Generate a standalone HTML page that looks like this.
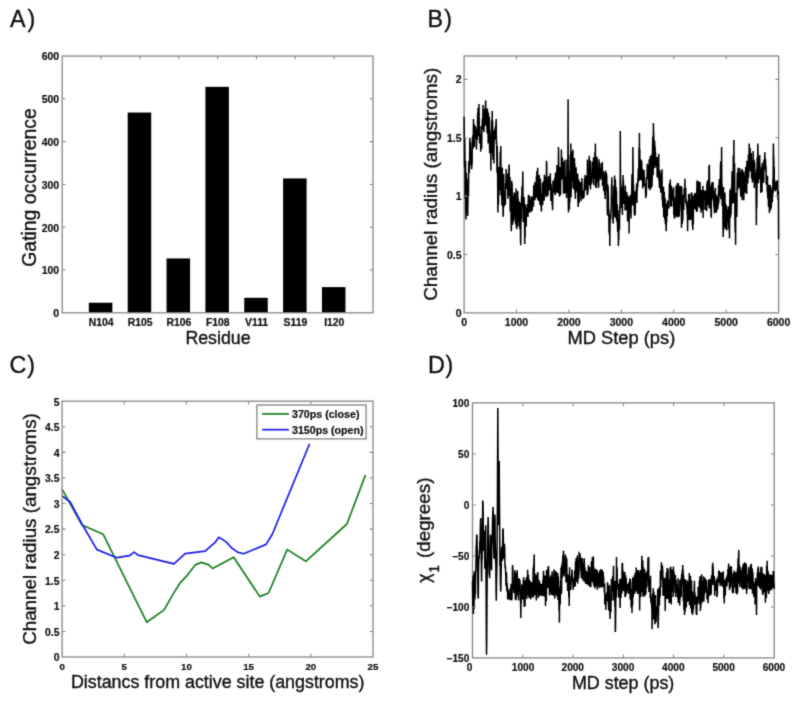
<!DOCTYPE html>
<html><head><meta charset="utf-8"><title>Figure</title>
<style>
html,body{margin:0;padding:0;background:#fff;}
body{width:798px;height:703px;overflow:hidden;font-family:"Liberation Sans",sans-serif;}
svg{display:block;font-family:"Liberation Sans",sans-serif;fill:#101010;}
</style></head><body>
<svg width="798" height="703" viewBox="0 0 798 703">
<defs><filter id="soft" x="0" y="0" width="100%" height="100%" filterUnits="objectBoundingBox" color-interpolation-filters="sRGB"><feConvolveMatrix order="3" kernelMatrix="0.0196 0.1008 0.0196 0.1008 0.5184 0.1008 0.0196 0.1008 0.0196" divisor="1" edgeMode="duplicate" preserveAlpha="true"/></filter></defs>
<g filter="url(#soft)">
<rect width="798" height="703" fill="#fff"/>
<text x="10.00" y="26.90" font-size="23.3" stroke="#101010" stroke-width="0.35" text-anchor="start">A<tspan dx="2.0">)</tspan></text>
<text x="427.60" y="26.70" font-size="23.3" stroke="#101010" stroke-width="0.35" text-anchor="start">B<tspan dx="1.2">)</tspan></text>
<text x="9.60" y="372.80" font-size="23.3" stroke="#101010" stroke-width="0.35" text-anchor="start">C<tspan dx="0.8">)</tspan></text>
<text x="427.90" y="372.60" font-size="23.3" stroke="#101010" stroke-width="0.35" text-anchor="start">D<tspan dx="0.7">)</tspan></text>
<path d="M101.05 312.80v-3.3M101.05 56.05v3.3M139.90 312.80v-3.3M139.90 56.05v3.3M178.75 312.80v-3.3M178.75 56.05v3.3M217.60 312.80v-3.3M217.60 56.05v3.3M256.45 312.80v-3.3M256.45 56.05v3.3M295.30 312.80v-3.3M295.30 56.05v3.3M334.15 312.80v-3.3M334.15 56.05v3.3M62.20 270.01h3.3M373.00 270.01h-3.3M62.20 227.22h3.3M373.00 227.22h-3.3M62.20 184.43h3.3M373.00 184.43h-3.3M62.20 141.63h3.3M373.00 141.63h-3.3M62.20 98.84h3.3M373.00 98.84h-3.3" stroke="#868686" stroke-width="1.05" fill="none"/>
<rect x="88.85" y="302.74" width="23.50" height="10.06" fill="#000"/>
<text x="101.20" y="325.90" font-size="10.4" font-weight="bold" stroke="#101010" stroke-width="0.2" text-anchor="middle">N104</text>
<rect x="127.70" y="112.54" width="23.50" height="200.26" fill="#000"/>
<text x="140.05" y="325.90" font-size="10.4" font-weight="bold" stroke="#101010" stroke-width="0.2" text-anchor="middle">R105</text>
<rect x="166.55" y="258.45" width="23.50" height="54.35" fill="#000"/>
<text x="178.90" y="325.90" font-size="10.4" font-weight="bold" stroke="#101010" stroke-width="0.2" text-anchor="middle">R106</text>
<rect x="205.40" y="86.86" width="23.50" height="225.94" fill="#000"/>
<text x="217.75" y="325.90" font-size="10.4" font-weight="bold" stroke="#101010" stroke-width="0.2" text-anchor="middle">F108</text>
<rect x="244.25" y="297.82" width="23.50" height="14.98" fill="#000"/>
<text x="256.60" y="325.90" font-size="10.4" font-weight="bold" stroke="#101010" stroke-width="0.2" text-anchor="middle">V111</text>
<rect x="283.10" y="178.43" width="23.50" height="134.37" fill="#000"/>
<text x="295.45" y="325.90" font-size="10.4" font-weight="bold" stroke="#101010" stroke-width="0.2" text-anchor="middle">S119</text>
<rect x="321.95" y="287.12" width="23.50" height="25.68" fill="#000"/>
<text x="334.30" y="325.90" font-size="10.4" font-weight="bold" stroke="#101010" stroke-width="0.2" text-anchor="middle">I120</text>
<rect x="62.20" y="56.05" width="310.80" height="256.75" fill="none" stroke="#868686" stroke-width="1.3"/>
<text x="59.10" y="317.10" font-size="10.4" font-weight="bold" stroke="#101010" stroke-width="0.2" text-anchor="end">0</text>
<text x="59.10" y="274.31" font-size="10.4" font-weight="bold" stroke="#101010" stroke-width="0.2" text-anchor="end">100</text>
<text x="59.10" y="231.52" font-size="10.4" font-weight="bold" stroke="#101010" stroke-width="0.2" text-anchor="end">200</text>
<text x="59.10" y="188.73" font-size="10.4" font-weight="bold" stroke="#101010" stroke-width="0.2" text-anchor="end">300</text>
<text x="59.10" y="145.93" font-size="10.4" font-weight="bold" stroke="#101010" stroke-width="0.2" text-anchor="end">400</text>
<text x="59.10" y="103.14" font-size="10.4" font-weight="bold" stroke="#101010" stroke-width="0.2" text-anchor="end">500</text>
<text x="59.10" y="60.35" font-size="10.4" font-weight="bold" stroke="#101010" stroke-width="0.2" text-anchor="end">600</text>
<text x="218.00" y="343.80" font-size="17.8" stroke="#101010" stroke-width="0.35" text-anchor="middle">Residue</text>
<text x="35.60" y="187.50" font-size="19.4" stroke="#101010" stroke-width="0.35" text-anchor="middle" transform="rotate(-90 35.60 187.50)">Gating occurrence</text>
<rect x="464.10" y="56.00" width="314.50" height="256.90" fill="none" stroke="#868686" stroke-width="1.3"/>
<path d="M464.1 116.7L464.3 136.5L464.5 166.9L464.7 137.7L464.9 151.1L465.1 198.5L465.4 168.3L465.6 161.1L465.8 211.5L466.0 219.5L466.2 193.4L466.4 172.8L466.6 191.6L466.8 205.5L467.0 185.2L467.2 184.4L467.5 206.1L467.7 216.0L467.9 202.1L468.1 178.6L468.3 188.4L468.5 196.1L468.7 167.4L468.9 161.1L469.1 167.5L469.3 172.8L469.6 159.8L469.8 137.7L470.0 165.3L470.2 152.9L470.4 142.3L470.6 149.9L470.8 157.6L471.0 150.3L471.2 159.0L471.4 150.9L471.6 169.3L471.9 164.0L472.1 163.8L472.3 139.4L472.5 137.7L472.7 139.1L472.9 135.3L473.1 148.7L473.3 134.4L473.5 119.1L473.7 142.9L474.0 144.0L474.2 124.0L474.4 147.1L474.6 135.3L474.8 137.9L475.0 134.3L475.2 133.1L475.4 126.1L475.6 133.4L475.8 134.4L476.1 128.8L476.3 137.6L476.5 149.4L476.7 132.1L476.9 129.1L477.1 135.9L477.3 139.9L477.5 123.7L477.7 112.4L477.9 126.2L478.1 107.7L478.4 135.7L478.6 135.1L478.8 135.0L479.0 103.9L479.2 121.3L479.4 127.0L479.6 143.4L479.8 137.7L480.0 134.6L480.2 134.7L480.5 135.7L480.7 151.8L480.9 139.1L481.1 146.4L481.3 126.0L481.5 148.3L481.7 148.1L481.9 126.1L482.1 127.8L482.3 121.0L482.6 121.5L482.8 123.3L483.0 105.0L483.2 129.6L483.4 126.9L483.6 115.5L483.8 108.4L484.0 131.9L484.2 117.3L484.4 125.7L484.6 121.1L484.9 125.2L485.1 114.4L485.3 114.3L485.5 104.7L485.7 100.4L485.9 113.0L486.1 114.3L486.3 119.2L486.5 126.1L486.7 125.6L487.0 126.9L487.2 133.4L487.4 108.5L487.6 116.3L487.8 111.5L488.0 115.4L488.2 143.6L488.4 113.1L488.6 121.3L488.8 140.7L489.1 139.2L489.3 116.7L489.5 143.6L489.7 153.2L489.9 149.8L490.1 145.9L490.3 146.0L490.5 142.3L490.7 135.2L490.9 170.4L491.1 130.5L491.4 137.3L491.6 120.1L491.8 134.4L492.0 153.4L492.2 110.9L492.4 130.7L492.6 121.3L492.8 139.3L493.0 159.7L493.2 155.3L493.5 159.4L493.7 130.2L493.9 163.4L494.1 140.5L494.3 134.9L494.5 138.4L494.7 139.7L494.9 137.7L495.1 127.6L495.3 136.6L495.6 130.7L495.8 125.7L496.0 123.2L496.2 119.1L496.4 144.3L496.6 140.7L496.8 153.9L497.0 172.8L497.2 146.1L497.4 162.4L497.6 172.9L497.9 212.5L498.1 193.0L498.3 191.7L498.5 204.4L498.7 166.9L498.9 195.1L499.1 185.5L499.3 176.7L499.5 167.4L499.7 190.3L500.0 175.3L500.2 151.6L500.4 173.2L500.6 167.7L500.8 145.9L501.0 195.3L501.2 184.9L501.4 196.1L501.6 183.4L501.8 196.1L502.0 205.6L502.3 167.6L502.5 187.2L502.7 191.1L502.9 200.8L503.1 216.0L503.3 216.0L503.5 190.1L503.7 173.9L503.9 193.5L504.1 206.8L504.4 193.9L504.6 202.5L504.8 192.3L505.0 203.6L505.2 192.9L505.4 204.9L505.6 183.3L505.8 187.7L506.0 181.4L506.2 169.1L506.5 189.0L506.7 176.8L506.9 186.4L507.1 175.0L507.3 173.5L507.5 187.0L507.7 180.0L507.9 198.8L508.1 178.2L508.3 186.3L508.5 192.2L508.8 175.1L509.0 164.5L509.2 165.9L509.4 196.3L509.6 182.2L509.8 187.5L510.0 176.9L510.2 211.6L510.4 188.6L510.6 197.7L510.9 206.8L511.1 219.4L511.3 231.2L511.5 223.9L511.7 180.7L511.9 206.2L512.1 183.6L512.3 199.2L512.5 225.1L512.7 197.9L513.0 196.1L513.2 200.8L513.4 221.8L513.6 202.0L513.8 212.6L514.0 218.8L514.2 192.5L514.4 199.3L514.6 203.1L514.8 192.8L515.0 203.6L515.3 210.9L515.5 223.9L515.7 199.3L515.9 206.2L516.1 188.4L516.3 227.5L516.5 201.4L516.7 229.3L516.9 208.1L517.1 200.6L517.4 215.5L517.6 204.2L517.8 191.1L518.0 226.4L518.2 198.8L518.4 222.2L518.6 210.2L518.8 214.6L519.0 219.3L519.2 220.8L519.5 201.6L519.7 217.7L519.9 229.2L520.1 219.8L520.3 203.0L520.5 238.0L520.7 245.2L520.9 221.9L521.1 218.0L521.3 219.3L521.5 196.4L521.8 200.0L522.0 186.5L522.2 207.2L522.4 192.6L522.6 185.4L522.8 171.6L523.0 197.8L523.2 222.2L523.4 211.1L523.6 198.5L523.9 221.8L524.1 197.1L524.3 218.1L524.5 204.6L524.7 244.0L524.9 220.6L525.1 237.6L525.3 204.2L525.5 218.4L525.7 220.9L526.0 214.3L526.2 226.4L526.4 213.5L526.6 212.0L526.8 208.2L527.0 210.8L527.2 205.9L527.4 204.3L527.6 207.3L527.8 211.4L528.0 217.0L528.3 198.5L528.5 194.8L528.7 212.8L528.9 202.5L529.1 195.6L529.3 198.9L529.5 208.4L529.7 204.8L529.9 212.0L530.1 198.7L530.4 210.1L530.6 202.3L530.8 212.4L531.0 202.6L531.2 196.3L531.4 202.8L531.6 210.4L531.8 197.1L532.0 201.0L532.2 210.8L532.5 196.9L532.7 199.3L532.9 200.7L533.1 196.3L533.3 197.0L533.5 206.8L533.7 187.3L533.9 185.1L534.1 190.4L534.3 192.5L534.5 200.3L534.8 182.3L535.0 200.2L535.2 184.0L535.4 188.2L535.6 198.1L535.8 187.5L536.0 187.9L536.2 190.0L536.4 176.2L536.6 187.4L536.9 170.9L537.1 197.5L537.3 182.6L537.5 177.8L537.7 167.7L537.9 199.9L538.1 191.8L538.3 200.8L538.5 183.8L538.7 183.9L539.0 175.8L539.2 175.0L539.4 193.6L539.6 198.1L539.8 204.5L540.0 191.3L540.2 188.7L540.4 178.6L540.6 191.8L540.8 206.0L541.0 196.7L541.3 209.4L541.5 211.6L541.7 193.0L541.9 202.9L542.1 201.0L542.3 195.3L542.5 182.9L542.7 204.9L542.9 190.7L543.1 189.9L543.4 181.1L543.6 200.8L543.8 190.5L544.0 184.0L544.2 200.5L544.4 174.8L544.6 187.2L544.8 194.2L545.0 188.8L545.2 186.0L545.5 178.6L545.7 176.7L545.9 181.7L546.1 197.1L546.3 193.7L546.5 160.7L546.7 164.7L546.9 188.0L547.1 195.5L547.3 186.7L547.5 196.2L547.8 186.5L548.0 195.4L548.2 179.2L548.4 182.5L548.6 175.9L548.8 186.9L549.0 190.5L549.2 189.5L549.4 185.6L549.6 179.1L549.9 187.0L550.1 181.2L550.3 173.2L550.5 188.0L550.7 186.6L550.9 201.1L551.1 183.7L551.3 189.6L551.5 190.7L551.7 199.8L552.0 199.9L552.2 205.2L552.4 201.4L552.6 210.2L552.8 195.5L553.0 180.4L553.2 186.9L553.4 185.2L553.6 189.4L553.8 186.0L554.0 192.8L554.3 184.0L554.5 186.4L554.7 178.2L554.9 190.6L555.1 195.1L555.3 177.2L555.5 172.6L555.7 193.4L555.9 192.0L556.1 183.4L556.4 190.3L556.6 176.3L556.8 173.9L557.0 164.9L557.2 172.7L557.4 192.2L557.6 184.2L557.8 168.6L558.0 193.3L558.2 187.3L558.5 147.1L558.7 165.6L558.9 168.2L559.1 192.1L559.3 173.3L559.5 196.5L559.7 167.0L559.9 176.1L560.1 170.3L560.3 169.4L560.5 195.3L560.8 175.2L561.0 179.4L561.2 179.8L561.4 149.4L561.6 177.4L561.8 163.3L562.0 157.1L562.2 178.6L562.4 158.1L562.6 173.3L562.9 179.1L563.1 163.2L563.3 176.9L563.5 193.8L563.7 161.8L563.9 174.1L564.1 173.4L564.3 193.5L564.5 176.5L564.7 174.0L564.9 159.8L565.2 193.3L565.4 178.0L565.6 177.7L565.8 177.3L566.0 183.6L566.2 179.3L566.4 176.4L566.6 198.0L566.8 181.1L567.0 159.5L567.3 160.1L567.5 191.0L567.7 192.7L567.9 163.5L568.1 99.2L568.3 203.5L568.5 212.5L568.7 172.1L568.9 202.0L569.1 184.3L569.4 209.4L569.6 171.1L569.8 202.5L570.0 174.7L570.2 155.0L570.4 174.1L570.6 163.8L570.8 143.6L571.0 197.6L571.2 188.8L571.4 167.4L571.7 151.7L571.9 187.9L572.1 166.0L572.3 155.4L572.5 180.9L572.7 155.6L572.9 149.8L573.1 178.4L573.3 166.6L573.5 170.6L573.8 189.6L574.0 163.6L574.2 168.8L574.4 158.0L574.6 173.9L574.8 163.4L575.0 192.5L575.2 193.2L575.4 199.0L575.6 178.8L575.9 186.0L576.1 167.3L576.3 191.5L576.5 180.7L576.7 184.2L576.9 179.8L577.1 174.6L577.3 173.4L577.5 192.9L577.7 173.9L577.9 197.4L578.2 206.9L578.4 193.6L578.6 196.2L578.8 179.4L579.0 196.4L579.2 203.1L579.4 183.1L579.6 187.2L579.8 187.4L580.0 184.9L580.3 181.9L580.5 196.3L580.7 193.1L580.9 185.2L581.1 200.9L581.3 184.7L581.5 185.4L581.7 199.3L581.9 178.0L582.1 191.6L582.4 195.8L582.6 198.2L582.8 197.2L583.0 193.0L583.2 198.8L583.4 190.5L583.6 194.7L583.8 192.6L584.0 197.6L584.2 187.9L584.4 182.0L584.7 178.0L584.9 190.7L585.1 174.9L585.3 179.4L585.5 180.9L585.7 189.8L585.9 184.9L586.1 176.4L586.3 184.8L586.5 175.9L586.8 183.7L587.0 180.0L587.2 195.2L587.4 162.0L587.6 159.5L587.8 193.8L588.0 190.2L588.2 172.0L588.4 179.8L588.6 177.0L588.9 180.1L589.1 172.9L589.3 155.8L589.5 181.1L589.7 184.9L589.9 185.1L590.1 178.5L590.3 160.4L590.5 189.4L590.7 161.6L590.9 169.2L591.2 184.6L591.4 177.8L591.6 178.0L591.8 183.1L592.0 174.6L592.2 177.7L592.4 177.7L592.6 169.1L592.8 161.4L593.0 173.4L593.3 169.8L593.5 157.3L593.7 185.2L593.9 167.1L594.1 178.7L594.3 174.2L594.5 160.6L594.7 172.0L594.9 152.4L595.1 172.6L595.4 143.6L595.6 187.7L595.8 157.9L596.0 169.1L596.2 166.7L596.4 187.8L596.6 162.5L596.8 156.9L597.0 158.9L597.2 163.0L597.4 181.3L597.7 175.6L597.9 182.5L598.1 169.6L598.3 169.8L598.5 186.9L598.7 186.7L598.9 159.3L599.1 180.1L599.3 161.9L599.5 171.9L599.8 169.0L600.0 179.8L600.2 175.5L600.4 172.5L600.6 175.9L600.8 168.0L601.0 175.1L601.2 163.6L601.4 168.9L601.6 178.6L601.9 176.5L602.1 180.3L602.3 162.0L602.5 186.1L602.7 173.9L602.9 175.2L603.1 170.8L603.3 173.9L603.5 176.6L603.7 191.1L603.9 188.3L604.2 175.1L604.4 182.2L604.6 181.3L604.8 194.9L605.0 171.7L605.2 199.0L605.4 187.7L605.6 170.5L605.8 190.2L606.0 173.4L606.3 172.7L606.5 187.3L606.7 174.4L606.9 189.1L607.1 189.5L607.3 210.8L607.5 215.4L607.7 184.3L607.9 198.1L608.1 186.6L608.4 196.3L608.6 211.1L608.8 209.3L609.0 232.7L609.2 213.8L609.4 234.7L609.6 215.2L609.8 245.9L610.0 222.4L610.2 222.0L610.4 217.4L610.7 219.6L610.9 213.2L611.1 210.1L611.3 206.9L611.5 184.8L611.7 187.6L611.9 177.2L612.1 194.8L612.3 202.0L612.5 199.3L612.8 196.3L613.0 223.4L613.2 222.9L613.4 208.5L613.6 213.3L613.8 185.9L614.0 198.9L614.2 185.7L614.4 217.3L614.6 175.6L614.9 214.6L615.1 213.0L615.3 179.4L615.5 184.6L615.7 192.4L615.9 218.3L616.1 187.1L616.3 212.6L616.5 190.4L616.7 221.4L616.9 208.0L617.2 204.3L617.4 220.3L617.6 230.5L617.8 231.8L618.0 229.8L618.2 218.9L618.4 245.9L618.6 236.6L618.8 239.8L619.0 210.5L619.3 218.9L619.5 229.7L619.7 206.4L619.9 212.8L620.1 203.2L620.3 131.0L620.5 177.5L620.7 183.2L620.9 185.2L621.1 198.0L621.4 187.2L621.6 208.0L621.8 199.8L622.0 203.6L622.2 198.0L622.4 215.0L622.6 193.6L622.8 200.1L623.0 174.9L623.2 202.1L623.4 179.8L623.7 194.1L623.9 204.0L624.1 193.8L624.3 191.7L624.5 191.3L624.7 197.2L624.9 197.3L625.1 210.6L625.3 185.6L625.5 197.0L625.8 210.1L626.0 202.9L626.2 199.0L626.4 205.0L626.6 205.8L626.8 191.9L627.0 208.9L627.2 196.4L627.4 208.4L627.6 221.4L627.8 213.4L628.1 195.4L628.3 217.6L628.5 218.9L628.7 219.5L628.9 199.8L629.1 233.5L629.3 197.7L629.5 208.7L629.7 213.9L629.9 196.9L630.2 204.0L630.4 194.7L630.6 205.9L630.8 206.2L631.0 218.4L631.2 201.5L631.4 202.6L631.6 198.2L631.8 183.2L632.0 174.2L632.3 205.4L632.5 173.7L632.7 192.5L632.9 147.1L633.1 175.5L633.3 187.8L633.5 184.7L633.7 196.1L633.9 205.5L634.1 190.9L634.3 211.9L634.6 215.7L634.8 211.1L635.0 213.2L635.2 213.4L635.4 199.5L635.6 195.5L635.8 191.2L636.0 193.5L636.2 190.8L636.4 190.2L636.7 183.2L636.9 203.1L637.1 185.6L637.3 191.1L637.5 183.8L637.7 186.7L637.9 177.7L638.1 182.9L638.3 168.5L638.5 180.2L638.8 173.8L639.0 147.6L639.2 180.8L639.4 133.1L639.6 171.8L639.8 148.9L640.0 173.6L640.2 172.5L640.4 175.6L640.6 178.2L640.8 180.3L641.1 159.6L641.3 173.7L641.5 179.1L641.7 161.1L641.9 180.4L642.1 175.1L642.3 168.8L642.5 171.7L642.7 188.4L642.9 184.8L643.2 175.8L643.4 182.0L643.6 186.3L643.8 176.9L644.0 169.8L644.2 177.2L644.4 178.1L644.6 183.7L644.8 185.1L645.0 185.0L645.3 185.3L645.5 188.0L645.7 198.2L645.9 188.7L646.1 193.0L646.3 196.1L646.5 178.1L646.7 177.2L646.9 179.1L647.1 175.0L647.3 163.7L647.6 174.8L647.8 173.8L648.0 177.4L648.2 178.0L648.4 164.7L648.6 188.4L648.8 168.3L649.0 177.8L649.2 159.3L649.4 170.8L649.7 169.5L649.9 190.2L650.1 179.3L650.3 156.0L650.5 173.1L650.7 187.0L650.9 186.7L651.1 162.9L651.3 188.2L651.5 154.6L651.8 170.5L652.0 186.2L652.2 176.8L652.4 159.4L652.6 143.0L652.8 136.4L653.0 148.9L653.2 174.9L653.4 123.0L653.6 133.1L653.8 136.2L654.1 167.1L654.3 144.9L654.5 140.5L654.7 144.2L654.9 168.1L655.1 146.5L655.3 159.3L655.5 152.2L655.7 165.4L655.9 157.3L656.2 159.3L656.4 157.0L656.6 163.3L656.8 166.9L657.0 161.7L657.2 176.9L657.4 157.1L657.6 175.5L657.8 159.3L658.0 178.0L658.3 160.7L658.5 170.5L658.7 153.8L658.9 180.0L659.1 173.2L659.3 183.1L659.5 188.3L659.7 169.9L659.9 178.6L660.1 188.0L660.3 180.2L660.6 183.4L660.8 192.8L661.0 180.9L661.2 185.4L661.4 172.5L661.6 182.6L661.8 179.8L662.0 169.2L662.2 199.9L662.4 195.7L662.7 204.3L662.9 207.1L663.1 202.4L663.3 208.2L663.5 186.7L663.7 217.3L663.9 203.9L664.1 210.3L664.3 191.8L664.5 208.3L664.8 219.4L665.0 197.8L665.2 200.8L665.4 223.9L665.6 215.5L665.8 209.6L666.0 223.8L666.2 231.2L666.4 220.1L666.6 222.5L666.8 203.7L667.1 216.1L667.3 215.5L667.5 200.4L667.7 208.9L667.9 201.9L668.1 202.0L668.3 205.1L668.5 201.2L668.7 205.1L668.9 208.6L669.2 198.3L669.4 183.4L669.6 185.5L669.8 187.6L670.0 193.1L670.2 179.4L670.4 186.3L670.6 191.2L670.8 206.6L671.0 185.5L671.3 190.5L671.5 186.2L671.7 206.7L671.9 194.8L672.1 200.7L672.3 198.4L672.5 197.5L672.7 193.4L672.9 191.9L673.1 189.6L673.3 194.7L673.6 187.3L673.8 215.0L674.0 202.4L674.2 204.2L674.4 218.7L674.6 208.6L674.8 197.4L675.0 201.4L675.2 206.3L675.4 206.0L675.7 217.2L675.9 202.7L676.1 187.6L676.3 185.2L676.5 202.3L676.7 216.6L676.9 206.2L677.1 206.0L677.3 187.8L677.5 183.1L677.8 200.1L678.0 217.6L678.2 191.3L678.4 183.3L678.6 196.4L678.8 193.7L679.0 196.2L679.2 216.4L679.4 198.3L679.6 192.7L679.8 191.1L680.1 185.8L680.3 204.1L680.5 200.0L680.7 186.4L680.9 198.0L681.1 210.7L681.3 203.9L681.5 227.7L681.7 186.3L681.9 206.7L682.2 224.0L682.4 212.4L682.6 208.2L682.8 220.8L683.0 203.5L683.2 209.7L683.4 194.5L683.6 200.2L683.8 210.0L684.0 199.6L684.2 190.0L684.5 190.4L684.7 197.9L684.9 178.8L685.1 190.8L685.3 195.8L685.5 196.8L685.7 187.7L685.9 203.3L686.1 198.7L686.3 201.9L686.6 205.5L686.8 206.1L687.0 208.7L687.2 214.7L687.4 209.8L687.6 231.2L687.8 205.7L688.0 201.4L688.2 219.7L688.4 205.4L688.7 194.0L688.9 219.8L689.1 202.4L689.3 193.7L689.5 220.3L689.7 205.1L689.9 219.6L690.1 198.9L690.3 217.6L690.5 211.2L690.7 218.4L691.0 212.7L691.2 193.2L691.4 219.8L691.6 192.3L691.8 206.7L692.0 193.7L692.2 202.8L692.4 226.2L692.6 215.7L692.8 230.0L693.1 199.5L693.3 224.6L693.5 197.3L693.7 195.5L693.9 199.9L694.1 201.8L694.3 202.7L694.5 209.1L694.7 193.3L694.9 196.2L695.2 200.4L695.4 209.6L695.6 202.7L695.8 194.7L696.0 192.7L696.2 203.0L696.4 202.3L696.6 212.0L696.8 195.5L697.0 180.6L697.2 211.4L697.5 204.0L697.7 181.9L697.9 183.3L698.1 201.6L698.3 200.7L698.5 181.2L698.7 206.5L698.9 189.6L699.1 199.0L699.3 184.3L699.6 207.8L699.8 188.8L700.0 181.9L700.2 193.9L700.4 208.6L700.6 197.6L700.8 192.2L701.0 212.7L701.2 192.4L701.4 190.1L701.7 196.3L701.9 205.9L702.1 210.1L702.3 192.9L702.5 196.8L702.7 204.3L702.9 185.8L703.1 218.1L703.3 195.3L703.5 192.7L703.7 199.5L704.0 190.3L704.2 193.7L704.4 198.0L704.6 196.1L704.8 192.7L705.0 209.7L705.2 200.0L705.4 190.7L705.6 209.9L705.8 201.0L706.1 193.2L706.3 210.0L706.5 196.1L706.7 211.2L706.9 183.4L707.1 199.3L707.3 181.7L707.5 181.4L707.7 181.7L707.9 205.2L708.2 196.0L708.4 205.1L708.6 181.1L708.8 182.5L709.0 166.1L709.2 208.6L709.4 164.7L709.6 207.5L709.8 202.9L710.0 186.1L710.2 207.2L710.5 195.9L710.7 199.8L710.9 205.2L711.1 216.0L711.3 217.7L711.5 184.0L711.7 198.8L711.9 182.3L712.1 191.0L712.3 190.2L712.6 197.6L712.8 188.0L713.0 182.0L713.2 195.8L713.4 200.6L713.6 189.9L713.8 202.6L714.0 207.2L714.2 198.3L714.4 213.3L714.7 202.3L714.9 197.8L715.1 209.8L715.3 187.8L715.5 211.3L715.7 211.1L715.9 194.5L716.1 198.5L716.3 198.3L716.5 212.7L716.7 202.6L717.0 195.9L717.2 202.1L717.4 200.2L717.6 209.4L717.8 208.1L718.0 204.5L718.2 194.2L718.4 204.4L718.6 185.3L718.8 202.7L719.1 187.4L719.3 180.3L719.5 179.2L719.7 196.3L719.9 191.9L720.1 187.8L720.3 182.6L720.5 166.7L720.7 161.4L720.9 199.2L721.2 177.1L721.4 179.3L721.6 147.1L721.8 186.9L722.0 184.1L722.2 206.1L722.4 194.1L722.6 205.8L722.8 200.5L723.0 226.6L723.2 237.0L723.5 187.0L723.7 230.0L723.9 213.8L724.1 214.4L724.3 204.6L724.5 226.5L724.7 211.2L724.9 192.6L725.1 227.1L725.3 202.5L725.6 229.1L725.8 214.7L726.0 226.7L726.2 204.8L726.4 210.8L726.6 228.8L726.8 230.3L727.0 224.6L727.2 218.7L727.4 212.2L727.7 215.3L727.9 209.4L728.1 214.6L728.3 206.2L728.5 222.8L728.7 218.2L728.9 229.6L729.1 215.0L729.3 226.8L729.5 238.2L729.7 213.3L730.0 189.6L730.2 198.2L730.4 218.1L730.6 194.2L730.8 205.4L731.0 214.7L731.2 206.5L731.4 187.6L731.6 197.1L731.8 188.8L732.1 171.3L732.3 203.6L732.5 201.6L732.7 179.9L732.9 178.3L733.1 187.3L733.3 155.3L733.5 202.7L733.7 202.2L733.9 140.1L734.2 195.6L734.4 199.5L734.6 163.3L734.8 199.2L735.0 222.8L735.2 232.4L735.4 196.1L735.6 244.8L735.8 192.7L736.0 196.6L736.2 198.6L736.5 201.6L736.7 217.0L736.9 210.5L737.1 184.1L737.3 172.8L737.5 177.7L737.7 189.8L737.9 176.2L738.1 167.8L738.3 183.3L738.6 180.6L738.8 181.1L739.0 183.1L739.2 187.7L739.4 184.3L739.6 175.4L739.8 167.9L740.0 183.1L740.2 173.3L740.4 189.2L740.7 195.7L740.9 196.7L741.1 193.1L741.3 177.1L741.5 171.4L741.7 181.0L741.9 170.0L742.1 200.3L742.3 169.1L742.5 192.6L742.7 184.1L743.0 172.8L743.2 171.5L743.4 180.9L743.6 192.2L743.8 200.3L744.0 189.3L744.2 184.0L744.4 175.8L744.6 182.5L744.8 182.4L745.1 171.3L745.3 188.9L745.5 192.8L745.7 166.7L745.9 187.8L746.1 185.4L746.3 168.0L746.5 186.4L746.7 193.9L746.9 160.7L747.2 170.6L747.4 180.0L747.6 171.6L747.8 183.5L748.0 169.9L748.2 172.9L748.4 154.6L748.6 177.7L748.8 171.4L749.0 166.3L749.2 143.6L749.5 164.7L749.7 162.8L749.9 159.4L750.1 147.9L750.3 162.6L750.5 171.6L750.7 153.1L750.9 171.6L751.1 157.0L751.3 153.0L751.6 177.3L751.8 177.1L752.0 160.7L752.2 164.4L752.4 182.4L752.6 172.8L752.8 180.5L753.0 169.6L753.2 151.1L753.4 167.5L753.6 172.3L753.9 161.5L754.1 159.7L754.3 188.1L754.5 163.9L754.7 163.8L754.9 183.0L755.1 172.9L755.3 179.5L755.5 184.3L755.7 173.2L756.0 185.4L756.2 208.9L756.4 225.3L756.6 169.2L756.8 207.6L757.0 179.1L757.2 157.8L757.4 173.1L757.6 168.0L757.8 143.6L758.1 159.5L758.3 183.3L758.5 178.1L758.7 167.3L758.9 163.1L759.1 157.1L759.3 177.1L759.5 179.3L759.7 154.9L759.9 178.9L760.1 168.8L760.4 169.9L760.6 171.4L760.8 193.1L761.0 181.8L761.2 173.6L761.4 173.0L761.6 166.4L761.8 174.5L762.0 192.0L762.2 162.7L762.5 181.5L762.7 167.4L762.9 167.0L763.1 176.0L763.3 182.0L763.5 182.7L763.7 180.1L763.9 159.7L764.1 170.2L764.3 166.1L764.6 162.7L764.8 152.2L765.0 161.5L765.2 167.0L765.4 158.8L765.6 161.4L765.8 171.3L766.0 166.2L766.2 184.6L766.4 179.1L766.6 183.4L766.9 179.9L767.1 178.6L767.3 192.6L767.5 175.7L767.7 195.9L767.9 198.6L768.1 185.6L768.3 190.4L768.5 206.8L768.7 195.8L769.0 206.9L769.2 184.8L769.4 213.1L769.6 186.9L769.8 210.6L770.0 202.6L770.2 184.9L770.4 201.0L770.6 210.3L770.8 187.1L771.1 198.1L771.3 207.8L771.5 190.5L771.7 200.3L771.9 202.6L772.1 191.6L772.3 202.3L772.5 189.5L772.7 196.4L772.9 178.4L773.1 193.0L773.4 143.6L773.6 156.6L773.8 159.3L774.0 190.0L774.2 167.1L774.4 190.6L774.6 179.8L774.8 188.7L775.0 186.3L775.2 184.3L775.5 190.3L775.7 190.1L775.9 185.1L776.1 182.0L776.3 183.9L776.5 181.0L776.7 185.9L776.9 182.3L777.1 189.4L777.3 180.2L777.6 193.3L777.8 196.4L778.0 197.6L778.2 200.2L778.4 191.3L778.6 239.3" stroke="#000" stroke-width="1.5" fill="none" stroke-linejoin="miter"/>
<path d="M516.52 312.90v-3.3M516.52 56.00v3.3M568.93 312.90v-3.3M568.93 56.00v3.3M621.35 312.90v-3.3M621.35 56.00v3.3M673.77 312.90v-3.3M673.77 56.00v3.3M726.18 312.90v-3.3M726.18 56.00v3.3M464.10 254.51h3.3M778.60 254.51h-3.3M464.10 196.13h3.3M778.60 196.13h-3.3M464.10 137.74h3.3M778.60 137.74h-3.3M464.10 79.35h3.3M778.60 79.35h-3.3" stroke="#868686" stroke-width="1.05" fill="none"/>
<text x="464.10" y="326.30" font-size="10.5" font-weight="bold" stroke="#101010" stroke-width="0.2" text-anchor="middle">0</text>
<text x="516.52" y="326.30" font-size="10.5" font-weight="bold" stroke="#101010" stroke-width="0.2" text-anchor="middle">1000</text>
<text x="568.93" y="326.30" font-size="10.5" font-weight="bold" stroke="#101010" stroke-width="0.2" text-anchor="middle">2000</text>
<text x="621.35" y="326.30" font-size="10.5" font-weight="bold" stroke="#101010" stroke-width="0.2" text-anchor="middle">3000</text>
<text x="673.77" y="326.30" font-size="10.5" font-weight="bold" stroke="#101010" stroke-width="0.2" text-anchor="middle">4000</text>
<text x="726.18" y="326.30" font-size="10.5" font-weight="bold" stroke="#101010" stroke-width="0.2" text-anchor="middle">5000</text>
<text x="778.60" y="326.30" font-size="10.5" font-weight="bold" stroke="#101010" stroke-width="0.2" text-anchor="middle">6000</text>
<text x="461.50" y="316.90" font-size="10.5" font-weight="bold" stroke="#101010" stroke-width="0.2" text-anchor="end">0</text>
<text x="461.50" y="258.51" font-size="10.5" font-weight="bold" stroke="#101010" stroke-width="0.2" text-anchor="end">0.5</text>
<text x="461.50" y="200.13" font-size="10.5" font-weight="bold" stroke="#101010" stroke-width="0.2" text-anchor="end">1</text>
<text x="461.50" y="141.74" font-size="10.5" font-weight="bold" stroke="#101010" stroke-width="0.2" text-anchor="end">1.5</text>
<text x="461.50" y="83.35" font-size="10.5" font-weight="bold" stroke="#101010" stroke-width="0.2" text-anchor="end">2</text>
<text x="621.40" y="343.60" font-size="18.3" stroke="#101010" stroke-width="0.35" text-anchor="middle">MD Step (ps)</text>
<text x="437.50" y="184.30" font-size="18.9" stroke="#101010" stroke-width="0.35" text-anchor="middle" transform="rotate(-90 437.50 184.30)">Channel radius (angstroms)</text>
<path d="M62.1 489.2L82.0 525.0L103.1 534.2L146.7 622.2L164.1 609.9L172.8 594.6L180.2 582.8L186.5 576.2L195.2 564.9L201.4 562.4L208.8 564.9L212.6 568.5L233.7 557.2L259.8 596.6L268.5 593.0L287.2 549.6L305.8 561.3L346.9 524.0L365.5 474.9" stroke="#1a7f1f" stroke-width="1.7" fill="none" stroke-linejoin="round"/>
<path d="M62.1 495.8L70.2 502.0L82.0 524.0L96.9 549.6L116.8 557.7L129.3 555.7L134.2 552.1L138.0 555.2L174.0 563.9L185.2 553.7L205.1 551.1L215.1 542.4L218.8 537.3L226.3 541.9L231.2 547.5L237.4 552.1L243.7 553.7L266.1 544.4L272.3 534.2L309.6 443.7" stroke="#1c1cf0" stroke-width="1.7" fill="none" stroke-linejoin="round"/>
<rect x="62.10" y="401.20" width="310.90" height="255.80" fill="none" stroke="#868686" stroke-width="1.3"/>
<path d="M124.28 657.00v-3.3M124.28 401.20v3.3M186.46 657.00v-3.3M186.46 401.20v3.3M248.64 657.00v-3.3M248.64 401.20v3.3M310.82 657.00v-3.3M310.82 401.20v3.3M62.10 631.42h3.3M373.00 631.42h-3.3M62.10 605.84h3.3M373.00 605.84h-3.3M62.10 580.26h3.3M373.00 580.26h-3.3M62.10 554.68h3.3M373.00 554.68h-3.3M62.10 529.10h3.3M373.00 529.10h-3.3M62.10 503.52h3.3M373.00 503.52h-3.3M62.10 477.94h3.3M373.00 477.94h-3.3M62.10 452.36h3.3M373.00 452.36h-3.3M62.10 426.78h3.3M373.00 426.78h-3.3" stroke="#868686" stroke-width="1.05" fill="none"/>
<text x="62.10" y="670.10" font-size="9.7" font-weight="bold" stroke="#101010" stroke-width="0.2" text-anchor="middle">0</text>
<text x="124.28" y="670.10" font-size="9.7" font-weight="bold" stroke="#101010" stroke-width="0.2" text-anchor="middle">5</text>
<text x="186.46" y="670.10" font-size="9.7" font-weight="bold" stroke="#101010" stroke-width="0.2" text-anchor="middle">10</text>
<text x="248.64" y="670.10" font-size="9.7" font-weight="bold" stroke="#101010" stroke-width="0.2" text-anchor="middle">15</text>
<text x="310.82" y="670.10" font-size="9.7" font-weight="bold" stroke="#101010" stroke-width="0.2" text-anchor="middle">20</text>
<text x="373.00" y="670.10" font-size="9.7" font-weight="bold" stroke="#101010" stroke-width="0.2" text-anchor="middle">25</text>
<text x="59.50" y="661.30" font-size="10.4" font-weight="bold" stroke="#101010" stroke-width="0.2" text-anchor="end">0</text>
<text x="59.50" y="635.72" font-size="10.4" font-weight="bold" stroke="#101010" stroke-width="0.2" text-anchor="end">0.5</text>
<text x="59.50" y="610.14" font-size="10.4" font-weight="bold" stroke="#101010" stroke-width="0.2" text-anchor="end">1</text>
<text x="59.50" y="584.56" font-size="10.4" font-weight="bold" stroke="#101010" stroke-width="0.2" text-anchor="end">1.5</text>
<text x="59.50" y="558.98" font-size="10.4" font-weight="bold" stroke="#101010" stroke-width="0.2" text-anchor="end">2</text>
<text x="59.50" y="533.40" font-size="10.4" font-weight="bold" stroke="#101010" stroke-width="0.2" text-anchor="end">2.5</text>
<text x="59.50" y="507.82" font-size="10.4" font-weight="bold" stroke="#101010" stroke-width="0.2" text-anchor="end">3</text>
<text x="59.50" y="482.24" font-size="10.4" font-weight="bold" stroke="#101010" stroke-width="0.2" text-anchor="end">3.5</text>
<text x="59.50" y="456.66" font-size="10.4" font-weight="bold" stroke="#101010" stroke-width="0.2" text-anchor="end">4</text>
<text x="59.50" y="431.08" font-size="10.4" font-weight="bold" stroke="#101010" stroke-width="0.2" text-anchor="end">4.5</text>
<text x="59.50" y="405.50" font-size="10.4" font-weight="bold" stroke="#101010" stroke-width="0.2" text-anchor="end">5</text>
<text x="217.70" y="688.10" font-size="17.85" stroke="#101010" stroke-width="0.35" text-anchor="middle">Distancs from active site (angstroms)</text>
<text x="36.30" y="529.00" font-size="18.8" stroke="#101010" stroke-width="0.35" text-anchor="middle" transform="rotate(-90 36.30 529.00)">Channel radius (angstroms)</text>
<rect x="256.9" y="405.0" width="109.2" height="33.9" fill="#fff" stroke="#6e6e6e" stroke-width="1.1"/>
<path d="M262.2 413.9h26.7" stroke="#1a7f1f" stroke-width="1.7"/>
<path d="M262.2 429.7h26.7" stroke="#1c1cf0" stroke-width="1.7"/>
<text x="292.00" y="418.20" font-size="10.65" font-weight="bold" stroke="#101010" stroke-width="0.2" text-anchor="start">370ps (close)</text>
<text x="292.00" y="433.80" font-size="10.65" font-weight="bold" stroke="#101010" stroke-width="0.2" text-anchor="start">3150ps (open)</text>
<rect x="472.50" y="402.90" width="301.70" height="255.00" fill="none" stroke="#868686" stroke-width="1.3"/>
<path d="M472.5 581.4L472.8 606.9L473.1 576.3L473.4 614.0L473.7 574.3L474.0 608.9L474.3 571.2L474.6 598.7L474.8 599.6L475.0 596.7L475.2 584.4L475.4 594.0L475.6 572.5L475.8 570.7L476.0 561.0L476.2 545.0L476.4 546.1L476.6 535.0L476.8 550.2L477.0 534.5L477.3 554.5L477.5 566.1L477.8 581.6L478.0 595.4L478.3 598.7L478.5 572.6L478.8 559.9L479.0 555.9L479.2 558.4L479.4 550.1L479.6 553.5L479.8 541.2L480.0 545.7L480.3 530.3L480.5 520.7L480.8 518.2L481.0 530.4L481.3 560.4L481.6 581.4L481.8 564.7L482.1 556.9L482.3 535.5L482.5 526.4L482.7 501.5L483.0 501.8L483.2 517.3L483.4 536.9L483.6 550.8L483.8 548.8L484.1 543.2L484.3 530.4L484.6 544.7L484.8 566.8L485.1 569.2L485.3 547.8L485.5 549.8L485.7 525.3L485.9 556.9L486.1 584.5L486.3 624.5L486.5 654.8L486.7 642.4L486.9 609.2L487.1 581.0L487.3 566.1L487.6 558.4L487.8 534.6L488.1 517.1L488.3 523.6L488.6 546.1L488.8 555.9L489.1 574.7L489.3 570.0L489.6 578.3L489.8 572.0L490.1 552.3L490.4 535.5L490.6 534.7L490.8 557.8L491.0 565.9L491.2 557.1L491.4 566.1L491.6 570.2L491.8 546.0L492.0 541.1L492.2 537.0L492.4 530.4L492.6 517.7L492.9 510.4L493.1 506.9L493.4 524.8L493.6 544.7L493.9 555.9L494.1 558.6L494.3 533.7L494.5 539.0L494.8 514.5L495.0 518.2L495.2 540.3L495.4 547.4L495.6 561.0L495.8 563.5L496.1 590.5L496.3 600.8L496.5 585.2L496.7 573.2L496.9 564.3L497.1 545.7L497.4 505.4L497.6 454.2L497.8 408.0L498.0 447.8L498.2 477.6L498.4 506.2L498.6 525.3L498.9 485.6L499.2 461.0L499.4 493.2L499.7 529.9L499.9 566.1L500.2 562.8L500.4 583.0L500.7 591.6L500.9 585.2L501.2 568.1L501.4 550.8L501.7 546.7L501.9 556.3L502.2 561.0L502.4 558.5L502.7 540.0L502.9 528.4L503.2 529.7L503.4 542.5L503.7 555.9L503.9 557.5L504.2 558.9L504.4 543.7L504.7 548.0L504.9 564.9L505.2 568.1L505.4 565.7L505.6 571.8L505.8 576.3L506.0 585.8L506.3 579.8L506.5 572.2L506.7 587.3L506.9 591.1L507.1 583.1L507.3 588.1L507.5 588.1L507.7 599.6L507.9 599.0L508.1 590.1L508.3 590.4L508.5 595.3L508.7 595.5L508.9 596.2L509.1 595.8L509.3 598.5L509.5 593.2L509.7 598.3L509.9 598.0L510.1 588.3L510.3 595.7L510.5 599.9L510.7 590.6L510.9 594.1L511.1 583.8L511.3 597.5L511.5 595.0L511.7 600.4L511.9 598.4L512.1 592.7L512.3 586.4L512.5 565.1L512.7 567.4L512.9 570.1L513.1 587.3L513.3 581.6L513.5 584.3L513.7 584.5L513.9 592.8L514.1 592.4L514.3 588.5L514.5 588.6L514.7 574.8L514.9 570.4L515.1 571.9L515.3 599.4L515.5 585.3L515.7 573.0L515.9 575.2L516.1 600.2L516.3 586.3L516.5 588.8L516.7 579.4L517.0 589.2L517.2 570.2L517.4 595.1L517.6 579.9L517.8 590.8L518.0 577.9L518.2 597.1L518.4 584.9L518.6 600.5L518.8 583.6L519.0 582.5L519.2 588.6L519.4 578.5L519.6 591.1L519.8 583.0L520.0 580.5L520.2 590.4L520.4 594.1L520.6 601.2L520.8 618.1L521.0 600.6L521.2 602.7L521.4 595.5L521.6 597.7L521.8 585.5L522.0 584.5L522.2 599.6L522.4 587.6L522.6 599.3L522.8 598.9L523.0 597.8L523.2 586.9L523.4 579.9L523.6 577.3L523.8 593.0L524.0 594.4L524.2 606.9L524.4 589.4L524.6 580.0L524.8 581.5L525.0 606.0L525.2 595.1L525.4 583.5L525.6 582.2L525.8 585.5L526.0 592.0L526.2 583.1L526.4 578.0L526.6 578.1L526.8 598.9L527.0 583.3L527.2 587.0L527.4 595.2L527.6 569.7L527.8 580.4L528.0 574.6L528.2 594.3L528.4 575.1L528.6 594.7L528.8 595.4L529.0 597.3L529.2 588.8L529.4 593.2L529.6 579.5L529.8 596.7L530.0 581.6L530.2 599.1L530.4 583.4L530.6 599.2L530.8 589.3L531.0 586.1L531.2 584.2L531.4 588.4L531.6 582.0L531.8 588.5L532.0 587.3L532.2 597.4L532.4 582.1L532.6 585.5L532.8 596.3L533.0 588.2L533.2 568.0L533.4 597.6L533.6 565.2L533.8 569.1L534.0 560.0L534.2 554.4L534.4 595.2L534.7 573.3L534.9 581.7L535.1 595.3L535.3 584.3L535.5 582.6L535.7 574.3L535.9 587.6L536.1 583.3L536.3 600.6L536.5 577.5L536.7 580.7L536.9 575.7L537.1 592.8L537.3 585.4L537.5 572.9L537.7 572.8L537.9 574.0L538.1 597.9L538.3 597.2L538.5 585.9L538.7 596.1L538.9 593.2L539.1 579.9L539.3 594.3L539.5 585.9L539.7 583.7L539.9 593.1L540.1 582.4L540.3 594.5L540.5 595.8L540.7 587.8L540.9 584.9L541.1 595.0L541.3 595.5L541.5 584.1L541.7 595.2L541.9 585.1L542.1 595.3L542.3 587.5L542.5 587.5L542.7 595.9L542.9 579.7L543.1 584.1L543.3 579.0L543.5 570.8L543.7 587.7L543.9 596.6L544.1 576.9L544.3 596.6L544.5 587.0L544.7 580.8L544.9 575.4L545.1 588.9L545.3 586.7L545.5 605.9L545.7 593.4L545.9 583.3L546.1 575.6L546.3 601.1L546.5 570.3L546.7 578.7L546.9 579.6L547.1 570.0L547.3 583.3L547.5 569.5L547.7 588.3L547.9 585.5L548.1 566.7L548.3 581.3L548.5 565.9L548.7 572.8L548.9 580.4L549.1 578.2L549.3 585.8L549.5 595.4L549.7 588.2L549.9 580.7L550.1 585.8L550.3 580.5L550.5 576.5L550.7 592.8L550.9 581.0L551.1 575.4L551.3 585.9L551.5 594.9L551.7 576.1L551.9 593.1L552.1 571.4L552.3 578.4L552.6 589.3L552.8 577.9L553.0 595.6L553.2 593.7L553.4 587.4L553.6 577.9L553.8 580.7L554.0 569.7L554.2 585.9L554.4 569.4L554.6 594.1L554.8 598.6L555.0 583.9L555.2 572.0L555.4 579.6L555.6 594.8L555.8 580.8L556.0 580.8L556.2 571.2L556.4 589.0L556.6 592.3L556.8 581.7L557.0 596.5L557.2 591.4L557.4 595.6L557.6 596.4L557.8 573.0L558.0 600.1L558.2 585.3L558.4 576.5L558.6 591.1L558.8 587.3L559.0 610.5L559.2 594.3L559.4 622.7L559.6 592.3L559.8 587.6L560.0 593.3L560.2 604.8L560.4 592.2L560.6 581.0L560.8 585.8L561.0 568.3L561.2 567.3L561.4 594.0L561.6 589.6L561.8 564.5L562.0 576.3L562.2 577.9L562.4 561.5L562.6 574.5L562.8 555.6L563.0 566.9L563.2 567.7L563.4 550.7L563.6 551.4L563.8 565.6L564.0 570.6L564.2 576.6L564.4 563.7L564.6 570.3L564.8 561.6L565.0 570.9L565.2 566.5L565.4 554.5L565.6 556.7L565.8 569.2L566.0 582.4L566.2 561.4L566.4 557.4L566.6 571.5L566.8 559.3L567.0 582.0L567.2 578.9L567.4 575.5L567.6 590.9L567.8 574.3L568.0 577.9L568.2 581.7L568.4 582.1L568.6 575.2L568.8 596.9L569.0 580.1L569.2 605.9L569.4 587.0L569.6 567.3L569.8 587.0L570.0 579.0L570.3 576.7L570.5 579.4L570.7 589.9L570.9 583.0L571.1 585.0L571.3 576.1L571.5 580.3L571.7 576.0L571.9 574.3L572.1 569.6L572.3 578.0L572.5 581.6L572.7 579.1L572.9 579.3L573.1 589.7L573.3 587.0L573.5 578.5L573.7 587.0L573.9 579.6L574.1 584.7L574.3 577.0L574.5 581.1L574.7 570.5L574.9 577.6L575.1 583.5L575.3 586.4L575.5 561.3L575.7 561.8L575.9 577.8L576.1 558.1L576.3 566.7L576.5 569.6L576.7 562.4L576.9 581.7L577.1 570.2L577.3 555.6L577.5 564.5L577.7 583.4L577.9 561.4L578.1 560.6L578.3 569.5L578.5 578.9L578.7 566.4L578.9 575.0L579.1 553.3L579.3 553.6L579.5 555.2L579.7 558.3L579.9 553.1L580.1 561.6L580.3 558.2L580.5 558.0L580.7 570.3L580.9 570.5L581.1 567.1L581.3 577.9L581.5 571.0L581.7 558.5L581.9 571.5L582.1 557.9L582.3 571.7L582.5 574.8L582.7 579.3L582.9 579.6L583.1 566.3L583.3 578.6L583.5 563.1L583.7 571.2L583.9 566.8L584.1 558.4L584.3 558.8L584.5 572.6L584.7 581.8L584.9 567.3L585.1 574.2L585.3 574.7L585.5 577.3L585.7 584.0L585.9 575.0L586.1 570.9L586.3 576.5L586.5 580.5L586.7 576.3L586.9 580.4L587.1 572.6L587.3 584.5L587.5 574.4L587.7 573.5L588.0 571.7L588.2 571.6L588.4 565.2L588.6 585.5L588.8 584.7L589.0 578.3L589.2 567.2L589.4 568.0L589.6 567.0L589.8 586.8L590.0 575.0L590.2 580.5L590.4 582.7L590.6 582.7L590.8 587.2L591.0 580.9L591.2 573.9L591.4 561.2L591.6 568.9L591.8 573.6L592.0 568.3L592.2 563.3L592.4 557.4L592.6 582.3L592.8 568.3L593.0 575.7L593.2 556.4L593.4 557.5L593.6 584.7L593.8 567.2L594.0 573.6L594.2 586.7L594.4 570.1L594.6 586.1L594.8 573.5L595.0 588.6L595.2 578.5L595.4 573.7L595.6 568.7L595.8 570.9L596.0 586.3L596.2 578.4L596.4 574.2L596.6 584.0L596.8 571.5L597.0 586.9L597.2 570.0L597.4 589.7L597.6 576.1L597.8 580.7L598.0 574.1L598.2 581.4L598.4 573.8L598.6 584.5L598.8 573.9L599.0 572.6L599.2 587.6L599.4 585.9L599.6 587.8L599.8 570.2L600.0 574.4L600.2 581.1L600.4 587.3L600.6 578.3L600.8 569.2L601.0 574.1L601.2 578.9L601.4 569.2L601.6 575.8L601.8 587.4L602.0 575.7L602.2 572.3L602.4 570.2L602.6 587.1L602.8 579.6L603.0 577.8L603.2 572.1L603.4 583.0L603.6 576.2L603.8 586.1L604.0 585.2L604.2 585.0L604.4 592.4L604.6 583.5L604.8 604.5L605.0 602.6L605.2 604.7L605.4 600.0L605.7 596.8L605.9 610.0L606.1 597.8L606.3 595.4L606.5 593.7L606.7 593.0L606.9 592.7L607.1 600.3L607.3 600.3L607.5 583.2L607.7 583.4L607.9 596.5L608.1 590.6L608.3 604.2L608.5 596.8L608.7 610.4L608.9 596.4L609.1 594.2L609.3 585.2L609.5 600.6L609.7 601.4L609.9 613.1L610.1 619.1L610.3 601.6L610.5 602.7L610.7 594.9L610.9 612.0L611.1 584.6L611.3 594.9L611.5 578.7L611.7 598.7L611.9 600.7L612.1 582.7L612.3 589.7L612.5 586.1L612.7 576.8L612.9 576.4L613.1 591.8L613.3 578.2L613.5 565.8L613.7 591.3L613.9 600.6L614.1 591.4L614.3 589.8L614.5 593.3L614.7 596.1L614.9 607.2L615.1 580.8L615.3 632.0L615.5 628.8L615.7 609.1L615.9 591.2L616.1 597.6L616.3 594.7L616.5 557.1L616.7 583.5L616.9 569.3L617.1 567.5L617.3 586.8L617.5 584.4L617.7 588.3L617.9 586.5L618.1 589.8L618.3 583.6L618.5 597.4L618.7 591.6L618.9 596.4L619.1 592.0L619.3 594.3L619.5 584.8L619.7 579.2L619.9 593.8L620.1 607.9L620.3 591.6L620.5 578.7L620.7 592.9L620.9 597.9L621.1 585.1L621.3 587.1L621.5 588.1L621.7 592.9L621.9 592.8L622.1 563.3L622.3 568.3L622.5 562.7L622.7 574.0L622.9 570.4L623.1 581.0L623.4 590.1L623.6 590.9L623.8 583.6L624.0 572.5L624.2 578.9L624.4 587.6L624.6 572.0L624.8 572.4L625.0 597.0L625.2 596.6L625.4 595.6L625.6 575.2L625.8 595.7L626.0 592.6L626.2 578.1L626.4 593.5L626.6 588.8L626.8 588.8L627.0 590.1L627.2 587.3L627.4 585.3L627.6 584.0L627.8 590.5L628.0 589.4L628.2 588.9L628.4 593.1L628.6 582.4L628.8 584.3L629.0 594.0L629.2 590.3L629.4 583.8L629.6 584.5L629.8 578.5L630.0 584.4L630.2 599.1L630.4 579.0L630.6 599.9L630.8 596.0L631.0 588.8L631.2 607.6L631.4 606.5L631.6 598.4L631.8 592.9L632.0 613.0L632.2 599.5L632.4 581.4L632.6 605.3L632.8 577.2L633.0 589.1L633.2 597.6L633.4 587.5L633.6 581.5L633.8 580.8L634.0 594.3L634.2 582.0L634.4 575.2L634.6 589.2L634.8 593.6L635.0 582.4L635.2 572.7L635.4 573.7L635.6 590.2L635.8 586.3L636.0 591.4L636.2 567.4L636.4 575.5L636.6 575.3L636.8 570.2L637.0 578.3L637.2 591.1L637.4 578.9L637.6 594.1L637.8 582.5L638.0 581.5L638.2 593.9L638.4 570.1L638.6 575.4L638.8 573.6L639.0 582.9L639.2 581.9L639.4 572.2L639.6 610.6L639.8 595.7L640.0 584.9L640.2 589.1L640.4 570.1L640.6 596.8L640.8 595.6L641.0 582.5L641.3 587.4L641.5 580.4L641.7 569.7L641.9 555.7L642.1 571.2L642.3 592.5L642.5 570.5L642.7 560.3L642.9 572.6L643.1 596.8L643.3 583.0L643.5 567.3L643.7 573.5L643.9 579.8L644.1 569.8L644.3 581.5L644.5 596.6L644.7 569.3L644.9 584.0L645.1 595.0L645.3 575.8L645.5 580.0L645.7 594.5L645.9 592.5L646.1 575.8L646.3 574.0L646.5 572.9L646.7 588.1L646.9 571.2L647.1 573.7L647.3 576.9L647.5 575.6L647.7 580.7L647.9 561.8L648.1 558.3L648.3 557.1L648.5 586.1L648.7 557.1L648.9 591.9L649.1 578.9L649.3 584.5L649.5 590.1L649.7 581.3L649.9 584.9L650.1 585.5L650.3 598.1L650.5 575.8L650.7 594.7L650.9 602.2L651.1 597.9L651.3 603.6L651.5 600.0L651.7 606.1L651.9 609.2L652.1 629.3L652.3 604.2L652.5 595.1L652.7 593.8L652.9 596.0L653.1 601.3L653.3 588.3L653.5 619.6L653.7 609.7L653.9 591.7L654.1 606.7L654.3 601.1L654.5 610.2L654.7 615.4L654.9 624.2L655.1 621.8L655.3 598.5L655.5 595.1L655.7 621.0L655.9 608.6L656.1 622.2L656.3 612.4L656.5 609.2L656.7 614.4L656.9 606.5L657.1 611.4L657.3 606.1L657.5 610.8L657.7 589.2L657.9 608.9L658.1 628.3L658.3 623.0L658.5 613.9L658.7 587.7L659.0 596.3L659.2 592.0L659.4 605.4L659.6 595.9L659.8 590.3L660.0 586.2L660.2 596.7L660.4 570.4L660.6 587.6L660.8 586.0L661.0 570.9L661.2 579.9L661.4 562.2L661.6 566.7L661.8 567.9L662.0 566.4L662.2 566.6L662.4 565.4L662.6 569.8L662.8 571.3L663.0 595.4L663.2 577.0L663.4 586.4L663.6 590.5L663.8 596.0L664.0 589.0L664.2 595.7L664.4 588.0L664.6 577.7L664.8 592.4L665.0 578.5L665.2 611.0L665.4 590.3L665.6 585.7L665.8 591.8L666.0 591.2L666.2 599.1L666.4 574.8L666.6 572.4L666.8 583.2L667.0 586.5L667.2 568.1L667.4 581.7L667.6 599.0L667.8 584.3L668.0 568.7L668.2 580.1L668.4 584.4L668.6 587.6L668.8 589.9L669.0 579.7L669.2 603.3L669.4 593.8L669.6 584.8L669.8 602.6L670.0 586.1L670.2 568.3L670.4 568.1L670.6 570.3L670.8 566.7L671.0 588.9L671.2 604.4L671.4 589.0L671.6 581.8L671.8 569.4L672.0 586.9L672.2 585.9L672.4 591.5L672.6 570.1L672.8 582.6L673.0 582.0L673.2 596.9L673.4 566.6L673.6 576.6L673.8 574.9L674.0 571.8L674.2 578.5L674.4 584.0L674.6 584.7L674.8 576.8L675.0 591.1L675.2 593.1L675.4 574.9L675.6 584.7L675.8 597.1L676.0 579.8L676.2 587.1L676.4 586.8L676.7 586.0L676.9 584.3L677.1 590.1L677.3 592.9L677.5 587.6L677.7 598.2L677.9 590.1L678.1 578.3L678.3 603.1L678.5 593.8L678.7 596.7L678.9 596.3L679.1 590.1L679.3 587.8L679.5 593.9L679.7 605.6L679.9 580.1L680.1 599.1L680.3 592.1L680.5 587.6L680.7 587.4L680.9 588.9L681.1 578.3L681.3 596.7L681.5 578.0L681.7 573.7L681.9 584.5L682.1 584.9L682.3 569.9L682.5 578.7L682.7 565.1L682.9 573.8L683.1 570.3L683.3 601.3L683.5 574.9L683.7 583.0L683.9 608.6L684.1 608.5L684.3 578.7L684.5 615.1L684.7 604.6L684.9 600.5L685.1 611.7L685.3 601.9L685.5 603.8L685.7 579.4L685.9 592.7L686.1 601.5L686.3 607.5L686.5 593.2L686.7 591.3L686.9 587.4L687.1 584.2L687.3 588.0L687.5 580.5L687.7 601.0L687.9 601.5L688.1 596.0L688.3 582.1L688.5 598.9L688.7 597.7L688.9 587.0L689.1 585.2L689.3 573.1L689.5 605.2L689.7 581.6L689.9 585.7L690.1 593.4L690.3 591.8L690.5 575.7L690.7 591.9L690.9 608.6L691.1 586.7L691.3 583.0L691.5 580.2L691.7 611.8L691.9 611.7L692.1 591.4L692.3 592.6L692.5 615.1L692.7 608.8L692.9 612.5L693.1 607.3L693.3 595.0L693.5 609.6L693.7 595.6L693.9 598.7L694.1 591.0L694.4 580.7L694.6 595.4L694.8 604.8L695.0 592.8L695.2 601.8L695.4 598.4L695.6 603.9L695.8 598.5L696.0 596.8L696.2 613.3L696.4 613.9L696.6 596.4L696.8 615.1L697.0 600.7L697.2 596.9L697.4 601.0L697.6 599.7L697.8 596.3L698.0 603.8L698.2 587.0L698.4 590.6L698.6 591.5L698.8 599.4L699.0 586.6L699.2 593.5L699.4 580.6L699.6 594.4L699.8 604.4L700.0 576.3L700.2 582.7L700.4 611.0L700.6 603.8L700.8 607.8L701.0 587.0L701.2 578.8L701.4 603.5L701.6 574.3L701.8 589.9L702.0 602.5L702.2 600.2L702.4 581.0L702.6 584.3L702.8 585.0L703.0 589.5L703.2 592.2L703.4 586.4L703.6 576.2L703.8 601.7L704.0 596.4L704.2 583.2L704.4 594.6L704.6 585.0L704.8 587.4L705.0 577.9L705.2 579.7L705.4 588.4L705.6 592.5L705.8 591.0L706.0 582.5L706.2 588.1L706.4 588.8L706.6 580.1L706.8 588.7L707.0 599.3L707.2 598.6L707.4 593.8L707.6 591.4L707.8 594.9L708.0 603.2L708.2 599.3L708.4 590.5L708.6 586.3L708.8 579.4L709.0 590.7L709.2 589.8L709.4 588.8L709.6 589.4L709.8 596.1L710.0 585.4L710.2 578.9L710.4 588.9L710.6 584.4L710.8 588.8L711.0 583.8L711.2 594.4L711.4 577.6L711.6 575.2L711.8 583.8L712.0 585.3L712.3 577.1L712.5 565.5L712.7 562.8L712.9 565.8L713.1 567.0L713.3 575.0L713.5 581.9L713.7 585.0L713.9 584.5L714.1 578.5L714.3 576.1L714.5 579.1L714.7 595.7L714.9 583.2L715.1 590.6L715.3 590.2L715.5 589.9L715.7 586.8L715.9 581.5L716.1 585.7L716.3 589.3L716.5 583.0L716.7 578.8L716.9 597.1L717.1 592.9L717.3 595.2L717.5 580.8L717.7 586.8L717.9 578.8L718.1 576.5L718.3 580.5L718.5 581.9L718.7 570.5L718.9 580.9L719.1 579.3L719.3 571.0L719.5 583.0L719.7 576.9L719.9 576.9L720.1 582.7L720.3 585.9L720.5 572.3L720.7 584.8L720.9 574.6L721.1 583.6L721.3 579.6L721.5 579.6L721.7 576.3L721.9 581.5L722.1 572.4L722.3 586.7L722.5 580.4L722.7 578.0L722.9 580.1L723.1 585.6L723.3 571.3L723.5 586.3L723.7 583.9L723.9 598.6L724.1 589.7L724.3 603.4L724.5 579.6L724.7 596.0L724.9 586.4L725.1 586.5L725.3 595.2L725.5 587.2L725.7 582.6L725.9 585.4L726.1 578.6L726.3 579.6L726.5 577.1L726.7 582.1L726.9 586.4L727.1 582.7L727.3 574.8L727.5 581.7L727.7 582.3L727.9 569.1L728.1 577.2L728.3 581.0L728.5 567.0L728.7 563.5L728.9 581.0L729.1 573.8L729.3 581.8L729.5 589.9L729.7 572.1L730.0 566.8L730.2 582.2L730.4 587.8L730.6 583.9L730.8 574.1L731.0 566.1L731.2 580.6L731.4 566.7L731.6 580.6L731.8 577.0L732.0 582.5L732.2 583.2L732.4 592.3L732.6 583.4L732.8 593.2L733.0 591.4L733.2 573.1L733.4 592.9L733.6 584.9L733.8 585.6L734.0 583.7L734.2 570.4L734.4 582.9L734.6 572.1L734.8 587.6L735.0 577.3L735.2 582.9L735.4 584.4L735.6 574.8L735.8 576.3L736.0 592.9L736.2 572.0L736.4 581.2L736.6 594.0L736.8 575.7L737.0 579.8L737.2 594.2L737.4 568.7L737.6 592.6L737.8 573.7L738.0 560.8L738.2 558.4L738.4 583.3L738.6 553.5L738.8 550.0L739.0 571.0L739.2 564.6L739.4 568.8L739.6 582.7L739.8 586.8L740.0 566.6L740.2 574.7L740.4 571.8L740.6 570.8L740.8 571.3L741.0 579.8L741.2 575.4L741.4 581.5L741.6 588.0L741.8 581.6L742.0 587.1L742.2 568.3L742.4 568.0L742.6 577.6L742.8 589.5L743.0 565.6L743.2 565.3L743.4 579.6L743.6 576.8L743.8 577.0L744.0 583.5L744.2 588.9L744.4 578.8L744.6 562.3L744.8 572.3L745.0 563.6L745.2 575.3L745.4 573.0L745.6 588.1L745.8 581.5L746.0 589.4L746.2 563.5L746.4 576.4L746.6 594.1L746.8 574.6L747.0 590.3L747.2 580.1L747.4 580.2L747.7 577.0L747.9 576.5L748.1 577.2L748.3 574.4L748.5 568.8L748.7 567.2L748.9 588.1L749.1 585.8L749.3 571.0L749.5 589.3L749.7 571.5L749.9 576.0L750.1 575.1L750.3 573.1L750.5 565.1L750.7 567.6L750.9 588.0L751.1 589.1L751.3 563.8L751.5 576.3L751.7 586.0L751.9 568.3L752.1 582.3L752.3 568.4L752.5 593.7L752.7 590.9L752.9 572.3L753.1 592.1L753.3 584.4L753.5 587.3L753.7 581.7L753.9 597.0L754.1 589.5L754.3 597.1L754.5 587.1L754.7 595.9L754.9 582.9L755.1 604.5L755.3 601.3L755.5 578.0L755.7 593.9L755.9 601.1L756.1 591.7L756.3 597.8L756.5 614.9L756.7 589.1L756.9 580.4L757.1 585.2L757.3 574.7L757.5 572.2L757.7 585.5L757.9 568.0L758.1 575.4L758.3 566.6L758.5 570.3L758.7 575.8L758.9 586.8L759.1 579.1L759.3 585.5L759.5 572.5L759.7 579.3L759.9 588.2L760.1 577.2L760.3 572.4L760.5 580.5L760.7 589.6L760.9 566.9L761.1 568.6L761.3 569.3L761.5 584.2L761.7 566.7L761.9 568.8L762.1 577.3L762.3 589.0L762.5 593.8L762.7 581.8L762.9 595.0L763.1 590.9L763.3 573.5L763.5 578.3L763.7 583.6L763.9 583.2L764.1 573.8L764.3 584.8L764.5 592.3L764.7 591.0L764.9 588.2L765.1 575.0L765.4 602.8L765.6 584.4L765.8 594.8L766.0 588.5L766.2 588.1L766.4 598.1L766.6 567.8L766.8 568.1L767.0 589.4L767.2 560.7L767.4 590.2L767.6 577.3L767.8 574.8L768.0 570.8L768.2 573.1L768.4 592.5L768.6 575.7L768.8 594.1L769.0 585.2L769.2 582.6L769.4 579.7L769.6 586.9L769.8 590.8L770.0 574.0L770.2 582.2L770.4 579.4L770.6 586.6L770.8 587.8L771.0 578.4L771.2 575.2L771.4 590.2L771.6 575.1L771.8 584.4L772.0 578.1L772.2 587.1L772.4 588.2L772.6 580.1L772.8 579.6L773.0 586.9L773.2 570.9L773.4 580.1L773.6 571.5L773.8 584.6L774.0 582.6L774.2 589.0" stroke="#000" stroke-width="1.5" fill="none" stroke-linejoin="miter"/>
<path d="M522.78 657.90v-3.3M522.78 402.90v3.3M573.07 657.90v-3.3M573.07 402.90v3.3M623.35 657.90v-3.3M623.35 402.90v3.3M673.63 657.90v-3.3M673.63 402.90v3.3M723.92 657.90v-3.3M723.92 402.90v3.3M472.50 606.90h3.3M774.20 606.90h-3.3M472.50 555.90h3.3M774.20 555.90h-3.3M472.50 504.90h3.3M774.20 504.90h-3.3M472.50 453.90h3.3M774.20 453.90h-3.3" stroke="#868686" stroke-width="1.05" fill="none"/>
<text x="469.50" y="671.20" font-size="10.1" font-weight="bold" stroke="#101010" stroke-width="0.2" text-anchor="middle">0</text>
<text x="523.08" y="671.20" font-size="10.1" font-weight="bold" stroke="#101010" stroke-width="0.2" text-anchor="middle">1000</text>
<text x="572.77" y="671.20" font-size="10.1" font-weight="bold" stroke="#101010" stroke-width="0.2" text-anchor="middle">2000</text>
<text x="623.05" y="671.20" font-size="10.1" font-weight="bold" stroke="#101010" stroke-width="0.2" text-anchor="middle">3000</text>
<text x="673.33" y="671.20" font-size="10.1" font-weight="bold" stroke="#101010" stroke-width="0.2" text-anchor="middle">4000</text>
<text x="723.62" y="671.20" font-size="10.1" font-weight="bold" stroke="#101010" stroke-width="0.2" text-anchor="middle">5000</text>
<text x="773.90" y="671.20" font-size="10.1" font-weight="bold" stroke="#101010" stroke-width="0.2" text-anchor="middle">6000</text>
<text x="469.30" y="662.10" font-size="10.1" font-weight="bold" stroke="#101010" stroke-width="0.2" text-anchor="end">–150</text>
<text x="469.30" y="611.10" font-size="10.1" font-weight="bold" stroke="#101010" stroke-width="0.2" text-anchor="end">–100</text>
<text x="469.30" y="560.10" font-size="10.1" font-weight="bold" stroke="#101010" stroke-width="0.2" text-anchor="end">–50</text>
<text x="469.30" y="509.10" font-size="10.1" font-weight="bold" stroke="#101010" stroke-width="0.2" text-anchor="end">0</text>
<text x="469.30" y="458.10" font-size="10.1" font-weight="bold" stroke="#101010" stroke-width="0.2" text-anchor="end">50</text>
<text x="469.30" y="407.10" font-size="10.1" font-weight="bold" stroke="#101010" stroke-width="0.2" text-anchor="end">100</text>
<text x="623.10" y="689.30" font-size="17.9" stroke="#101010" stroke-width="0.35" text-anchor="middle">MD step (ps)</text>
<g transform="translate(430 583) rotate(-90)" stroke="#101010" stroke-width="0.35"><text x="0" y="0" font-size="18.2" text-anchor="start">χ</text><text x="10.2" y="8.5" font-size="14" text-anchor="start">1</text><text x="25.0" y="0" font-size="18.8" text-anchor="start">(degrees)</text></g>
</g>
</svg>
</body></html>
